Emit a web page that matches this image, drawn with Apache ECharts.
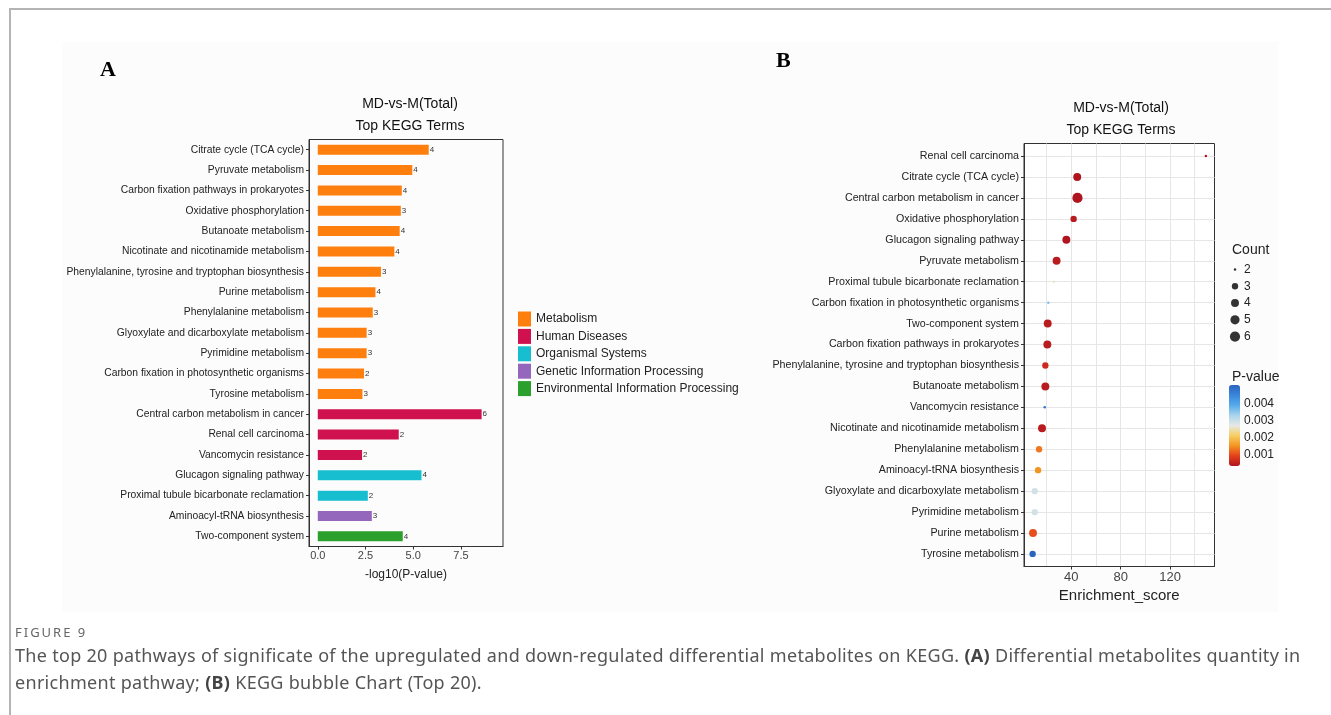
<!DOCTYPE html>
<html>
<head>
<meta charset="utf-8">
<script src="https://cdn.jsdelivr.net/npm/echarts@6/dist/echarts.min.js"></script>
<style>
  html, body { margin: 0; padding: 0; background: #fff; width: 1331px; height: 715px; overflow: hidden; }
  #frame { position: absolute; left: 9px; top: 8px; right: 0; bottom: 0; border-top: 2px solid #b4b4b4; border-left: 2px solid #b4b4b4; }
  #panel { position: absolute; left: 62px; top: 42px; width: 1216px; height: 570px; background: #fcfcfc; }
  #chart { position: absolute; left: 0; top: 0; width: 1331px; height: 715px; }
  #caption { position: absolute; left: 15px; top: 622px; width: 1312px; font-family: 'Noto Sans', sans-serif; color: #555; white-space: nowrap; }
  #caption .fig { font-size: 13px; letter-spacing: 2px; color: #666; line-height: 20px; }
  #caption .txt { font-size: 18px; letter-spacing: 0.3px; line-height: 27px; }
  #caption b { color: #444; }
</style>
</head>
<body>
<div id="frame"></div>
<div id="panel"></div>
<div id="chart"></div>
<div id="caption">
  <div class="fig">FIGURE 9</div>
  <div class="txt">The top 20 pathways of significate of the upregulated and down-regulated differential metabolites on KEGG. <b>(A)</b> Differential metabolites quantity in<br>enrichment pathway; <b>(B)</b> KEGG bubble Chart (Top 20).</div>
</div>
<script>
// ---- Panel A: top KEGG terms, -log10(P-value) bars ----
const termsA = [
  'Citrate cycle (TCA cycle)', 'Pyruvate metabolism', 'Carbon fixation pathways in prokaryotes',
  'Oxidative phosphorylation', 'Butanoate metabolism', 'Nicotinate and nicotinamide metabolism',
  'Phenylalanine, tyrosine and tryptophan biosynthesis', 'Purine metabolism', 'Phenylalanine metabolism',
  'Glyoxylate and dicarboxylate metabolism', 'Pyrimidine metabolism', 'Carbon fixation in photosynthetic organisms',
  'Tyrosine metabolism', 'Central carbon metabolism in cancer', 'Renal cell carcinoma', 'Vancomycin resistance',
  'Glucagon signaling pathway', 'Proximal tubule bicarbonate reclamation', 'Aminoacyl-tRNA biosynthesis',
  'Two-component system'
];
const negLogP = [5.81, 4.95, 4.40, 4.35, 4.29, 4.01, 3.31, 3.02, 2.88, 2.56, 2.56, 2.42, 2.34, 8.58, 4.24, 2.32, 5.43, 2.62, 2.83, 4.45];
const countsA = [4, 4, 4, 3, 4, 4, 3, 4, 3, 3, 3, 2, 3, 6, 2, 2, 4, 2, 3, 4];
const classA = [
  'Metabolism', 'Metabolism', 'Metabolism', 'Metabolism', 'Metabolism', 'Metabolism', 'Metabolism',
  'Metabolism', 'Metabolism', 'Metabolism', 'Metabolism', 'Metabolism', 'Metabolism',
  'Human Diseases', 'Human Diseases', 'Human Diseases',
  'Organismal Systems', 'Organismal Systems',
  'Genetic Information Processing', 'Environmental Information Processing'
];
const classNames = ['Metabolism', 'Human Diseases', 'Organismal Systems', 'Genetic Information Processing', 'Environmental Information Processing'];
const classColors = ['#ff7f0e', '#d0114f', '#17becf', '#9467bd', '#2ca02c'];
const ticksA = [0, 2.5, 5, 7.5];

// ---- Panel B: KEGG bubble chart ----
const termsB = [
  'Renal cell carcinoma', 'Citrate cycle (TCA cycle)', 'Central carbon metabolism in cancer',
  'Oxidative phosphorylation', 'Glucagon signaling pathway', 'Pyruvate metabolism',
  'Proximal tubule bicarbonate reclamation', 'Carbon fixation in photosynthetic organisms', 'Two-component system',
  'Carbon fixation pathways in prokaryotes', 'Phenylalanine, tyrosine and tryptophan biosynthesis',
  'Butanoate metabolism', 'Vancomycin resistance', 'Nicotinate and nicotinamide metabolism',
  'Phenylalanine metabolism', 'Aminoacyl-tRNA biosynthesis', 'Glyoxylate and dicarboxylate metabolism',
  'Pyrimidine metabolism', 'Purine metabolism', 'Tyrosine metabolism'
];
const enrichB = [149, 44.8, 45, 41.9, 36, 28.1, 26, 21.4, 20.9, 20.6, 19, 19, 18.5, 16.3, 13.9, 13.1, 10.4, 10.4, 9.0, 8.7];
const countB = [2, 4, 6, 3, 4, 4, 2, 2, 4, 4, 3, 4, 2, 4, 3, 3, 3, 3, 4, 3];
const pB = [0.0003, 0.0003, 0.0003, 0.0004, 0.0003, 0.0004, 0.0026, 0.0036, 0.0004, 0.0004, 0.0006, 0.0004, 0.0048, 0.0004, 0.0013, 0.0015, 0.0029, 0.0029, 0.0010, 0.0051];
const gridTicksB = [20, 40, 60, 80, 100, 120, 140];
const labelTicksB = [40, 80, 120];
const countLevels = [2, 3, 4, 5, 6];
const pTicks = [0.001, 0.002, 0.003, 0.004];
const pRange = [0.0003, 0.0051];
const pColors = ['#b0151f', '#e5401c', '#f39422', '#f7cf62', '#e6e8e4', '#a9d4ee', '#55aaeb', '#3a86da', '#2c64c2'];

// bubble diameter from count (area-style scale, 2..6)
function bubbleSize(c) {
  return 2.5 + 7.7 * Math.sqrt((c - 2) / 4);
}

const txt = '#222';
const font = "'Liberation Sans', Arial, sans-serif";

const barSeries = classNames.map((name, k) => ({
  name: name,
  type: 'bar',
  xAxisIndex: 0,
  yAxisIndex: 0,
  stack: 'A',
  barWidth: 10,
  itemStyle: { color: classColors[k] },
  data: negLogP.map((v, i) => (classA[i] === name ? v : '-')),
  label: {
    show: true,
    position: 'right',
    distance: 1,
    fontSize: 8,
    fontFamily: font,
    color: '#333',
    formatter: p => String(countsA[p.dataIndex])
  }
}));

const chart = echarts.init(document.getElementById('chart'), null, { renderer: 'canvas' });
chart.setOption({
  animation: false,
  textStyle: { fontFamily: font },
  title: [
    { text: 'A', left: 95, top: 54, textStyle: { fontFamily: "'Liberation Serif', 'Times New Roman', serif", fontWeight: 'bold', fontSize: 22, color: '#000' } },
    { text: 'B', left: 771, top: 45, textStyle: { fontFamily: "'Liberation Serif', 'Times New Roman', serif", fontWeight: 'bold', fontSize: 22, color: '#000' } },
    { text: 'MD-vs-M(Total)\nTop KEGG Terms', left: 405, top: 88, textAlign: 'center', textStyle: { fontSize: 14, lineHeight: 22, fontWeight: 'normal', color: '#111' } },
    { text: 'MD-vs-M(Total)\nTop KEGG Terms', left: 1116, top: 92, textAlign: 'center', textStyle: { fontSize: 14, lineHeight: 22, fontWeight: 'normal', color: '#111' } },
    { text: 'Count', left: 1227, top: 238, textStyle: { fontSize: 14, fontWeight: 'normal', color: txt } },
    { text: 'P-value', left: 1227, top: 365, textStyle: { fontSize: 14, fontWeight: 'normal', color: txt } }
  ],
  legend: {
    data: classNames,
    orient: 'vertical',
    left: 518,
    top: 311.5,
    padding: 0,
    itemWidth: 13,
    itemHeight: 15,
    itemGap: 2.4,
    icon: 'rect',
    selectedMode: false,
    textStyle: { fontSize: 12, color: txt, fontFamily: font }
  },
  visualMap: {
    type: 'continuous',
    seriesIndex: 5,
    dimension: 3,
    min: pRange[0],
    max: pRange[1],
    orient: 'vertical',
    left: 1229,
    top: 385,
    padding: 0,
    itemWidth: 11,
    itemHeight: 81,
    calculable: false,
    realtime: false,
    text: null,
    showLabel: false,
    inRange: { color: pColors }
  },
  grid: [
    { left: 309, top: 139.5, width: 194, height: 407, show: true, borderColor: '#333', borderWidth: 1, backgroundColor: 'transparent' },
    { left: 1024, top: 143.5, width: 190.5, height: 423, show: true, borderColor: '#333', borderWidth: 1, backgroundColor: '#fff' },
    { left: 1230, top: 261, width: 10, height: 84 },
    { left: 1229, top: 385, width: 11, height: 81 }
  ],
  xAxis: [
    {
      gridIndex: 0, type: 'value', min: -0.46, max: 9.7,
      name: '-log10(P-value)', nameLocation: 'middle', nameGap: 22,
      nameTextStyle: { fontSize: 12, color: txt },
      axisLine: { show: true, onZero: false, lineStyle: { color: '#333' } },
      axisTick: { show: true, length: 3, customValues: ticksA, lineStyle: { color: '#333' } },
      axisLabel: { customValues: ticksA, fontSize: 11, color: '#444', margin: 4, formatter: v => v.toFixed(1) },
      splitLine: { show: false }
    },
    {
      gridIndex: 1, type: 'value', min: 1.7, max: 156,
      axisLine: { show: false },
      axisTick: { show: false, customValues: gridTicksB },
      axisLabel: { show: false },
      splitLine: { show: true, lineStyle: { color: '#e6e6e6', width: 1 } }
    },
    {
      gridIndex: 1, type: 'value', min: 1.7, max: 156, position: 'bottom',
      name: 'Enrichment_score', nameLocation: 'middle', nameGap: 21,
      nameTextStyle: { fontSize: 15, color: txt },
      axisLine: { show: true, onZero: false, lineStyle: { color: '#333' } },
      axisTick: { show: true, length: 3, customValues: labelTicksB, lineStyle: { color: '#333' } },
      axisLabel: { customValues: labelTicksB, fontSize: 13, color: '#444', margin: 4 },
      splitLine: { show: false }
    },
    { gridIndex: 2, type: 'value', min: 0, max: 1, show: false },
    { gridIndex: 3, type: 'value', min: 0, max: 1, show: false }
  ],
  yAxis: [
    {
      gridIndex: 0, type: 'category', inverse: true, data: termsA,
      axisLine: { show: true, onZero: false, lineStyle: { color: '#333' } },
      axisTick: { show: true, length: 3, alignWithLabel: true, lineStyle: { color: '#333' } },
      axisLabel: { fontSize: 10.3, color: txt, margin: 5, interval: 0 }
    },
    {
      gridIndex: 1, type: 'value', inverse: true, min: -0.6, max: 19.6,
      axisLine: { show: true, onZero: false, lineStyle: { color: '#333' } },
      axisTick: { show: true, length: 3, customValues: termsB.map((_, i) => i), lineStyle: { color: '#333' } },
      axisLabel: { customValues: termsB.map((_, i) => i), fontSize: 10.7, color: txt, margin: 5, formatter: v => termsB[Math.round(v)] },
      splitLine: { show: true, lineStyle: { color: '#e6e6e6', width: 1 } }
    },
    {
      gridIndex: 2, type: 'category', inverse: true, position: 'right', data: countLevels.map(String),
      axisLine: { show: false }, axisTick: { show: false },
      axisLabel: { fontSize: 12, color: txt, margin: 4 }
    },
    {
      gridIndex: 3, type: 'value', position: 'right', min: pRange[0], max: pRange[1],
      axisLine: { show: false },
      axisTick: { show: true, inside: true, length: 3, customValues: pTicks, lineStyle: { color: '#fff' } },
      axisLabel: { customValues: pTicks, fontSize: 12, color: txt, margin: 4, formatter: v => v.toFixed(3) },
      splitLine: { show: false }
    }
  ],
  series: barSeries.concat([
    {
      name: 'KEGG bubble',
      type: 'scatter',
      xAxisIndex: 1,
      yAxisIndex: 1,
      data: termsB.map((t, i) => [enrichB[i], i, countB[i], pB[i]]),
      symbolSize: d => bubbleSize(d[2]),
      itemStyle: { opacity: 1 },
      z: 5
    },
    {
      name: 'Count',
      type: 'scatter',
      xAxisIndex: 3,
      yAxisIndex: 2,
      data: countLevels.map(c => [0.5, String(c), c]),
      symbolSize: d => bubbleSize(d[2]),
      itemStyle: { color: '#000' }
    }
  ])
});
</script>
</body>
</html>
